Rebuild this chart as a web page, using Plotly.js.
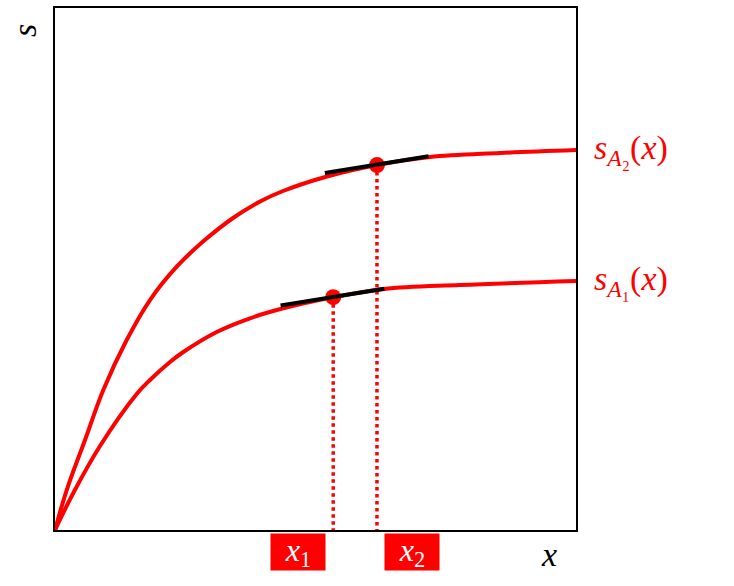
<!DOCTYPE html>
<html>
<head>
<meta charset="utf-8">
<script src="https://cdn.plot.ly/plotly-3.0.1.min.js"></script>
<style>
  body { margin: 0; }
  #chart text { font-family: "Liberation Serif", "DejaVu Serif", serif !important; }
</style>
</head>
<body>
<div id="chart"></div>
<script>
// curves (x and s both on a 0..1 scale)
var xUpper = [0, 0.0225, 0.0576, 0.0927, 0.1376, 0.1823, 0.2336, 0.2841, 0.3417, 0.3935, 0.4376, 0.5221, 0.6180, 0.7198, 0.8541, 1];
var sUpper = [0, 0.0766, 0.1724, 0.2682, 0.3640, 0.4406, 0.5044, 0.5525, 0.5977, 0.6293, 0.6494, 0.6772, 0.6992, 0.7146, 0.7222, 0.7280];
var xLower = [0, 0.0351, 0.0864, 0.1568, 0.1823, 0.2207, 0.2463, 0.3104, 0.3743, 0.4382, 0.5336, 0.6315, 0.7774, 1];
var sLower = [0, 0.0709, 0.1609, 0.2605, 0.2874, 0.3218, 0.3410, 0.3793, 0.4056, 0.4247, 0.4458, 0.4617, 0.4693, 0.4770];

// the two marked points x1, x2
var pointX = [0.534, 0.618];
var pointS = [0.446, 0.699];

// tangent segments at the marked points
var tanLowerX = [0.433, 0.632];
var tanLowerS = [0.430, 0.462];
var tanUpperX = [0.518, 0.717];
var tanUpperS = [0.684, 0.716];

var red = '#ff0000';
var mathFont = 'Liberation Serif';

var data = [
  {
    x: xUpper, y: sUpper, mode: 'lines',
    line: {color: red, width: 4, shape: 'spline', smoothing: 1}
  },
  {
    x: xLower, y: sLower, mode: 'lines',
    line: {color: red, width: 4, shape: 'spline', smoothing: 1}
  },
  // dotted drops
  {
    x: [pointX[0], pointX[0]], y: [pointS[0], 0], mode: 'lines',
    line: {color: red, width: 3.5, dash: 'dot'}
  },
  {
    x: [pointX[1], pointX[1]], y: [pointS[1], 0], mode: 'lines',
    line: {color: red, width: 3.5, dash: 'dot'}
  },
  {
    x: pointX, y: pointS, mode: 'markers',
    marker: {color: red, size: 16}
  },
  {
    x: tanLowerX, y: tanLowerS, mode: 'lines',
    line: {color: '#000000', width: 4}
  },
  {
    x: tanUpperX, y: tanUpperS, mode: 'lines',
    line: {color: '#000000', width: 4}
  }
];

var layout = {
  width: 734,
  height: 586,
  margin: {l: 55, r: 158, t: 8, b: 56},
  font: {family: mathFont},
  paper_bgcolor: '#ffffff',
  plot_bgcolor: '#ffffff',
  showlegend: false,
  xaxis: {
    range: [0, 1], showgrid: false, zeroline: false, showticklabels: false, ticks: '',
    showline: true, mirror: true, linecolor: '#000000', linewidth: 1.5
  },
  yaxis: {
    range: [0, 1], showgrid: false, zeroline: false, showticklabels: false, ticks: '',
    showline: true, mirror: true, linecolor: '#000000', linewidth: 1.5
  },
  annotations: [
    {
      xref: 'paper', yref: 'y', x: 1, y: sUpper[sUpper.length - 1],
      xanchor: 'left', yanchor: 'middle', xshift: 16, showarrow: false,
      text: '<i>s</i><sub><i>A</i>₂</sub>(<i>x</i>)',
      font: {family: mathFont, size: 34, color: red}
    },
    {
      xref: 'paper', yref: 'y', x: 1, y: sLower[sLower.length - 1],
      xanchor: 'left', yanchor: 'middle', xshift: 16, showarrow: false,
      text: '<i>s</i><sub><i>A</i>₁</sub>(<i>x</i>)',
      font: {family: mathFont, size: 34, color: red}
    },
    {
      xref: 'x', yref: 'paper', x: pointX[0], y: 0,
      xanchor: 'right', yanchor: 'top', xshift: -7, yshift: -3, showarrow: false,
      text: '<i>x</i><sub>1</sub>', bgcolor: red, borderpad: 2, width: 50, height: 32,
      font: {family: mathFont, size: 32, color: '#ffffff'}
    },
    {
      xref: 'x', yref: 'paper', x: pointX[1], y: 0,
      xanchor: 'left', yanchor: 'top', xshift: 7, yshift: -3, showarrow: false,
      text: '<i>x</i><sub>2</sub>', bgcolor: red, borderpad: 2, width: 50, height: 32,
      font: {family: mathFont, size: 32, color: '#ffffff'}
    },
    {
      xref: 'paper', yref: 'paper', x: 0.948, y: 0,
      xanchor: 'center', yanchor: 'top', yshift: -4, showarrow: false,
      text: '<i>x</i>',
      font: {family: mathFont, size: 34, color: '#000000'}
    },
    {
      xref: 'paper', yref: 'paper', x: 0, y: 1,
      xanchor: 'right', yanchor: 'top', xshift: -10, yshift: -14, showarrow: false,
      text: '<i>s</i>', textangle: -90,
      font: {family: mathFont, size: 34, color: '#000000'}
    }
  ]
};

Plotly.newPlot('chart', data, layout, {displayModeBar: false});
</script>
</body>
</html>
